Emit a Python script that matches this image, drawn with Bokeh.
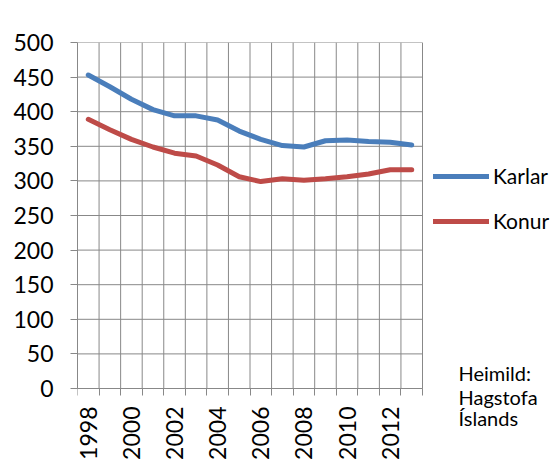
from math import pi
from bokeh.plotting import figure
from bokeh.models import FixedTicker, Legend, LegendItem, LinearAxis, Range1d
from bokeh.embed import file_html
from bokeh.resources import INLINE

years = list(range(1998, 2014))
karlar = [453, 436, 418, 403, 394, 394, 388, 372, 360, 351, 349, 358, 359, 357, 356, 352]
konur = [389, 374, 360, 349, 340, 336, 323, 306, 299, 303, 301, 303, 306, 310, 316, 316]
year_labels = [1998, 2000, 2002, 2004, 2006, 2008, 2010, 2012]
y_ticks = list(range(0, 501, 50))
source_lines = ["Heimild:", "Hagstofa", "Íslands"]

FONT = "Lato"
GRID = "#888888"

W, H = 552, 466
LEFT, TOP = 77, 42
CHART_W, CHART_H = 345, 346        # pixel size of the gridded chart area
FRAME_W, FRAME_H = W - LEFT, H - TOP   # frame reaches right and bottom edges

boundaries = [y - 0.5 for y in years] + [years[-1] + 0.5]
px_per_year = CHART_W / (boundaries[-1] - boundaries[0])
x_end = boundaries[0] + FRAME_W / px_per_year
y_top = y_ticks[-1]
px_per_unit = CHART_H / (y_top - y_ticks[0])
y_start = y_top - FRAME_H / px_per_unit

p = figure(width=W, height=H, output_backend="svg", toolbar_location=None,
           x_range=Range1d(boundaries[0], x_end), y_range=Range1d(y_start, y_top),
           min_border_left=LEFT, min_border_right=0, min_border_top=TOP, min_border_bottom=0)
p.outline_line_color = None
p.background_fill_color = "white"
p.border_fill_color = "white"

# x axis, fixed at y = 0
p.xaxis.fixed_location = 0
p.xaxis.bounds = (boundaries[0], boundaries[-1])
p.xaxis.ticker = FixedTicker(ticks=year_labels, minor_ticks=boundaries)
p.xaxis.major_tick_out = 0
p.xaxis.major_tick_in = 0
p.xaxis.minor_tick_out = 7
p.xaxis.minor_tick_in = 0
p.xaxis.minor_tick_line_color = GRID
p.xaxis.axis_line_color = GRID
p.xaxis.major_label_orientation = pi / 2
p.xaxis.major_label_standoff = 11
p.xaxis.major_label_text_font = FONT
p.xaxis.major_label_text_font_size = "23px"
p.xaxis.major_label_text_color = "black"

# y axis
p.yaxis.bounds = (y_ticks[0], y_ticks[-1])
p.yaxis.ticker = FixedTicker(ticks=y_ticks)
p.yaxis.major_tick_out = 7
p.yaxis.major_tick_in = 0
p.yaxis.minor_tick_line_color = None
p.yaxis.major_tick_line_color = GRID
p.yaxis.axis_line_color = GRID
p.yaxis.major_label_standoff = 17
p.yaxis.major_label_text_font = FONT
p.yaxis.major_label_text_font_size = "23px"
p.yaxis.major_label_text_color = "black"

# grid lines limited to the chart area
p.xgrid.visible = False
p.ygrid.visible = False
n = len(y_ticks)
p.segment(x0=[boundaries[0]] * n, x1=[boundaries[-1]] * n, y0=y_ticks, y1=y_ticks,
          line_color=GRID, line_width=1)
m = len(boundaries)
p.segment(x0=boundaries, x1=boundaries, y0=[y_ticks[0]] * m, y1=[y_ticks[-1]] * m,
          line_color=GRID, line_width=1)

r1 = p.line(years, karlar, line_color="#4A7EBB", line_width=5, line_cap="round", line_join="round")
r2 = p.line(years, konur, line_color="#BE4B48", line_width=5, line_cap="round", line_join="round")

# legend position relative to the frame's bottom-left (frame bottom is now the page bottom)
legend = Legend(items=[LegendItem(label="Karlar", renderers=[r1]),
                       LegendItem(label="Konur", renderers=[r2])],
                location=(356, 155 + (FRAME_H - CHART_H)), orientation="vertical",
                glyph_width=56, glyph_height=20, label_height=20, label_standoff=4,
                spacing=20, padding=0, margin=0,
                label_text_font=FONT, label_text_font_size="21px", label_text_color="black",
                border_line_color=None, background_fill_alpha=0)
p.add_layout(legend)

# source note: a label-only axis fixed just right of the chart
src_ticks = [22, -12, -43]
src_x = boundaries[0] + (458 - LEFT) / px_per_year
src_axis = LinearAxis(fixed_location=src_x, bounds=(-60, 35),
                      ticker=FixedTicker(ticks=src_ticks),
                      major_label_overrides={t: s for t, s in zip(src_ticks, source_lines)},
                      axis_line_color=None, major_tick_line_color=None, minor_tick_line_color=None,
                      major_tick_out=0, major_tick_in=0, major_label_standoff=0,
                      major_label_text_font=FONT, major_label_text_font_size="20px",
                      major_label_text_color="black")
p.add_layout(src_axis, "right")

open("out.html", "w").write(file_html(p, INLINE))
